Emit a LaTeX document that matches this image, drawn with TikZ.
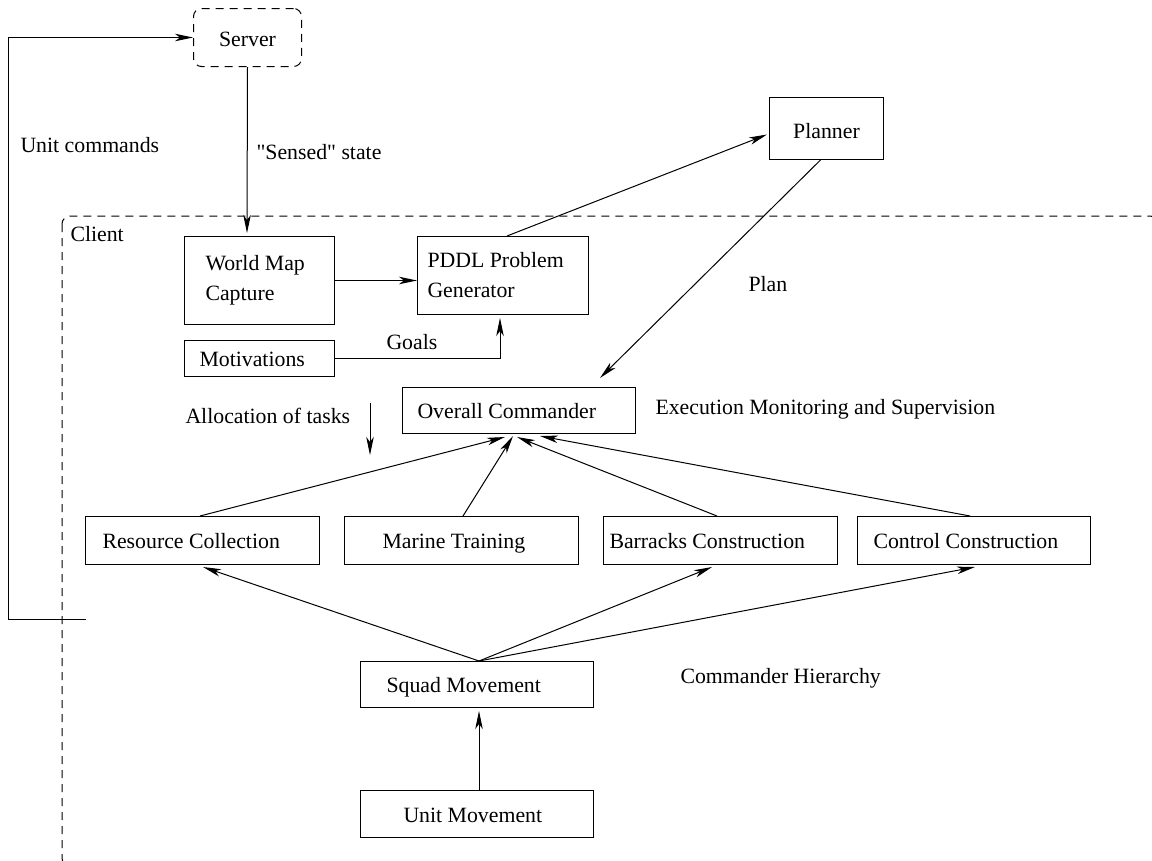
\documentclass[tikz,border=0pt]{standalone}
\usepackage{fontspec}
\setmainfont{Liberation Serif}[Ligatures=TeXOff]
\usetikzlibrary{arrows.meta,calc}
\newcommand\dfont{\fontsize{21.8}{30}\selectfont}
\newcommand\ns{\spaceskip=0pt\xspaceskip=0pt\relax}
\begin{document}
\begin{tikzpicture}[x=1pt,y=-1pt, line width=1pt,
  >={Stealth[length=18pt,width=7.5pt,inset=5pt]},
  every node/.style={font=\dfont},
  box/.style={draw, rectangle, inner ysep=0pt, align=left, anchor=north west},
  one/.style={text height=16pt, text depth=0pt},
  lbl/.style={anchor=base west, inner sep=0pt},
  dashy/.style={dash pattern=on 8pt off 6pt, rounded corners=8pt}]
\path[use as bounding box, clip] (0,0) rectangle (1152,860);

% client boundary
\draw[dashy] (62,216) rectangle (1158,866);

% nodes
\node[box, dashy, minimum width=108pt, minimum height=58pt, align=center, text height=18pt, text depth=0pt] (server) at (193,8) {Server};
\node[box, text width=108pt, inner xsep=21pt, minimum height=88pt] (wmc) at (184,236) {\ns World Map\\Capture};
\node[box, one, text width=120pt, inner xsep=15pt, minimum height=36pt] (mot) at (184,340) {\ns Motivations};
\node[box, text width=151pt, inner xsep=10pt, minimum height=78pt] (pddl) at (417,236) {\ns PDDL Problem\\Generator};
\node[box, minimum width=114pt, minimum height=62pt, align=center, text height=20pt, text depth=0pt] (planner) at (769,97) {Planner};
\node[box, one, text width=203pt, inner xsep=15pt, minimum height=46pt] (oc) at (402,387) {\ns Overall Commander};
\node[box, one, text width=200pt, inner xsep=17pt, minimum height=48pt] (rc) at (85,516) {\ns Resource Collection};
\node[box, one, text width=158pt, inner xsep=38pt, minimum height=48pt] (mt) at (344,516) {\ns Marine Training};
\node[box, one, text width=222pt, inner xsep=6pt, minimum height=48pt] (bc) at (603,516) {\ns Barracks Construction};
\node[box, one, text width=201pt, inner xsep=16pt, minimum height=48pt] (cc) at (857,516) {\ns Control Construction};
\node[box, one, text width=181pt, inner xsep=26pt, minimum height=46pt] (sm) at (360,661) {\ns Squad Movement};
\node[box, one, text width=147pt, inner xsep=43pt, minimum height=47pt] (um) at (360,790) {\ns Unit Movement};

% labels
\node[lbl] (lunit) at (20,152) {Unit commands};
\node[lbl] (lsensed) at (256,159) {"Sensed" state};
\node[lbl] (lclient) at (70,241) {Client};
\node[lbl] (lgoals) at (386,349) {Goals};
\node[lbl] (lplan) at (748,291) {Plan};
\node[lbl] (lexec) at (655,414) {Execution Monitoring and Supervision};
\node[lbl] (lalloc) at (185,423) {Allocation of tasks};
\node[lbl] (lhier) at (680,683) {Commander Hierarchy};

% coordinates
\coordinate (uc) at (86,619);
\coordinate (al1) at (370,403);
\coordinate (al2) at (370,455);

% connectors
\draw[->] (uc) -| ($(server.west)+(-185,0)$) -- (server.west);
\draw[->] (server.south) -- ($(wmc.north west)+(63,-3)$);
\draw[->] (wmc.east) -- (wmc.east -| pddl.west);
\draw[->] (mot.east) -| ($(pddl.south west)+(83,3)$);
\draw[->] ($(pddl.north west)+(90,0)$) -- ($(planner.west)+(-2,6)$);
\draw[->] ($(planner.south)+(-6,0)$) -- ($(oc.north west)+(198,-9)$);
\draw[->] (al1) -- (al2);

\draw[->] ($(rc.north west)+(115,0)$) -- ($(oc.south west)+(103,3)$);
\draw[->] ($(mt.north west)+(119,0)$) -- ($(oc.south west)+(111,2)$);
\draw[->] ($(bc.north west)+(114,0)$) -- ($(oc.south west)+(115,3)$);
\draw[->] ($(cc.north west)+(113,0)$) -- ($(oc.south west)+(138,2)$);

\draw[->] ($(sm.north west)+(119,0)$) -- ($(rc.south west)+(118,2)$);
\draw[->] ($(sm.north west)+(119,0)$) -- ($(bc.south west)+(109,2)$);
\draw[->] ($(sm.north west)+(119,0)$) -- ($(cc.south west)+(118,2)$);
\draw[->] ($(um.north west)+(119,0)$) -- ($(sm.south west)+(119,3)$);
\end{tikzpicture}
\end{document}
